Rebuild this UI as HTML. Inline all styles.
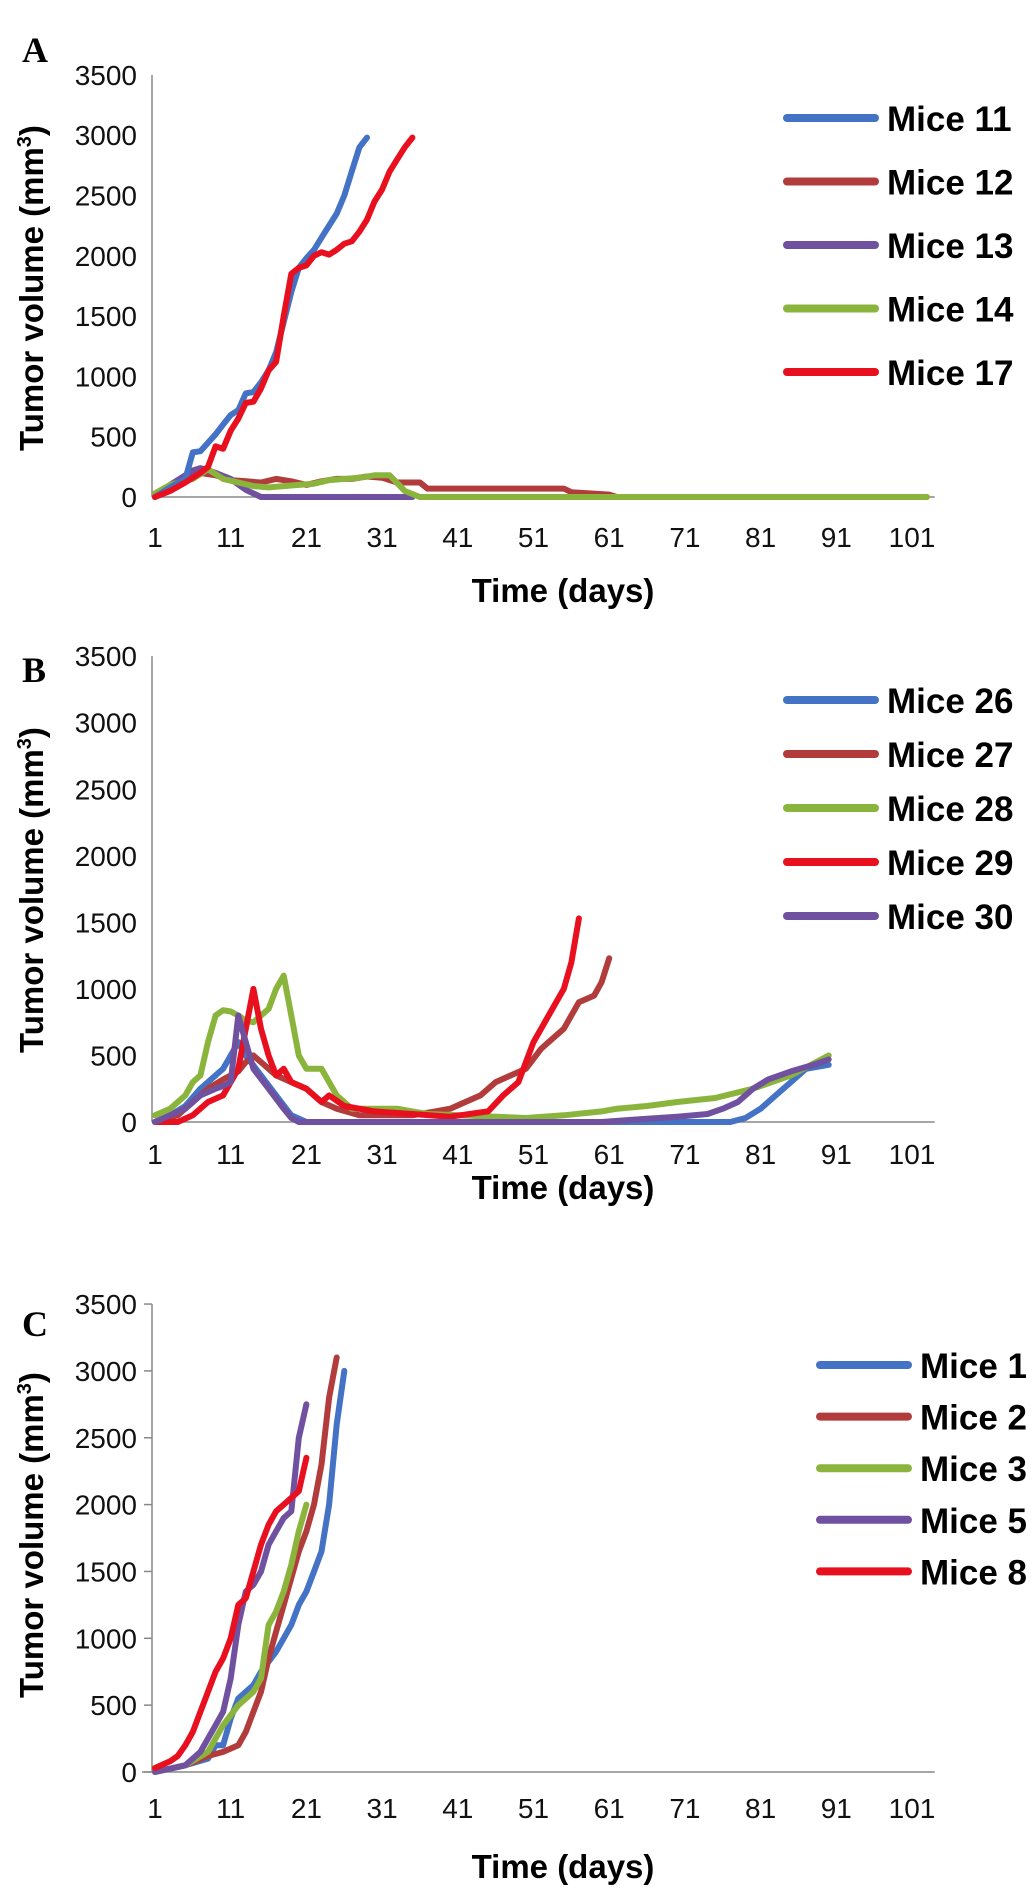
<!DOCTYPE html>
<html><head><meta charset="utf-8"><style>
html,body{margin:0;padding:0;background:#fff;}
svg{display:block;}
.tick{font-family:"Liberation Sans",sans-serif;font-size:28px;fill:#111;}
.ttl{font-family:"Liberation Sans",sans-serif;font-size:33px;font-weight:bold;fill:#000;}
.leg{font-family:"Liberation Sans",sans-serif;font-size:35px;font-weight:bold;fill:#000;}
.pl{font-family:"Liberation Serif",serif;font-size:36px;font-weight:bold;fill:#000;}
</style></head><body>
<svg id="fig" width="1033" height="1889" viewBox="0 0 1033 1889" xmlns="http://www.w3.org/2000/svg"></svg>
<script>
const yTicks=[0,500,1000,1500,2000,2500,3000,3500];
const xTicks=[1,11,21,31,41,51,61,71,81,91,101];
const BLUE="#4472c4",BROWN="#b23c3c",PURPLE="#7051a0",GREEN="#8bb43c",RED="#e8101e";

// Panel A
const a11D=[1,3,5,6,7,8,9,10,11,12,13,14,15,16,17,18,19,20,21,22,23,24,25,26,27,28,29];
const a11V=[0,80,150,370,380,450,520,600,680,720,860,870,950,1050,1200,1450,1700,1900,1980,2050,2150,2250,2350,2500,2700,2900,2980];
const a12D=[1,3,5,7,9,11,13,15,17,19,21,23,25,27,29,31,33,36,37,40,55,56,61,62];
const a12V=[0,80,150,200,180,140,130,120,150,130,100,130,150,150,170,160,120,120,70,70,70,40,20,0];
const a13D=[1,3,5,6,7,9,11,13,15,35];
const a13V=[0,100,180,220,240,200,150,60,0,0];
const a14D=[1,3,6,8,10,12,14,16,20,22,24,28,30,32,34,36,103];
const a14V=[30,100,150,230,150,120,90,80,100,110,140,160,180,180,50,0,0];
const a17D=[1,3,5,7,8,9,10,11,12,13,14,15,16,17,18,19,20,21,22,23,24,25,26,27,28,29,30,31,32,33,34,35];
const a17V=[0,50,120,200,250,420,400,550,650,780,790,900,1050,1120,1500,1850,1900,1920,2000,2030,2010,2050,2100,2120,2200,2300,2450,2550,2700,2800,2900,2980];

// Panel B
const b26D=[1,3,5,7,9,10,11,12,13,15,17,19,21,77,79,81,83,85,87,90];
const b26V=[0,50,120,250,350,400,500,600,500,350,200,50,0,0,30,100,200,300,400,430];
const b27D=[1,4,6,8,10,12,13,14,15,17,19,21,23,25,28,35,38,40,42,44,46,48,50,52,53,55,57,59,60,61];
const b27V=[0,50,150,250,320,380,450,500,450,350,300,250,150,100,50,50,80,100,150,200,300,350,400,550,600,700,900,950,1050,1230];
const b28D=[1,3,5,6,7,8,9,10,11,12,13,14,16,17,18,19,20,21,23,25,27,33,35,37,50,55,60,62,66,70,75,80,85,90];
const b28V=[50,100,200,300,350,600,800,840,830,800,760,750,850,1000,1100,800,500,400,400,200,100,100,80,60,30,50,80,100,120,150,180,250,350,500];
const b29D=[1,4,6,8,10,11,12,13,14,15,16,17,18,19,21,23,24,26,30,35,40,45,47,49,51,53,55,56,57];
const b29V=[0,0,50,150,200,300,400,700,1000,700,500,350,400,300,250,150,200,120,80,60,40,80,200,300,600,800,1000,1200,1530];
const b30D=[1,3,5,7,9,10,11,12,13,14,16,18,19,20,60,65,70,74,76,78,80,82,85,88,90];
const b30V=[0,50,100,200,250,270,300,800,600,400,250,100,30,0,0,20,40,60,100,150,250,320,380,430,470];

// Panel C
const c1D=[1,5,8,9,10,11,12,13,14,15,17,18,19,20,21,22,23,24,25,26];
const c1V=[0,50,100,200,200,400,550,600,650,750,900,1000,1100,1250,1350,1500,1650,2000,2600,3000];
const c2D=[1,5,8,10,12,13,14,15,16,17,18,19,20,21,22,23,24,25];
const c2V=[0,50,120,150,200,300,450,600,850,1050,1250,1450,1650,1800,2000,2300,2800,3100];
const c3D=[1,5,8,10,12,14,15,16,17,18,19,20,21];
const c3V=[0,50,150,350,500,600,700,1100,1200,1350,1550,1800,2000];
const c5D=[1,5,7,9,10,11,12,13,14,15,16,17,18,19,20,21];
const c5V=[0,50,150,350,450,700,1100,1350,1400,1500,1700,1800,1900,1950,2500,2750];
const c8D=[1,3,4,5,6,7,8,9,10,11,12,13,14,15,16,17,18,19,20,21];
const c8V=[30,80,120,200,300,450,600,750,850,1000,1250,1300,1500,1700,1850,1950,2000,2050,2100,2350];

const NS="http://www.w3.org/2000/svg";
const svg=document.getElementById('fig');
function mk(tag,attrs,parent,text){const e=document.createElementNS(NS,tag);for(const k in attrs)e.setAttribute(k,attrs[k]);if(text!==undefined)e.textContent=text;(parent||svg).appendChild(e);return e;}

function panel(p){
  const g=mk('g',{});
  
  
  const X=d=>155+(d-1)*7.57;
  const Y=v=>p.y0-v*p.k;
  const lt=mk('text',{x:22,y:p.letterY,class:'pl'},g,p.key.toUpperCase());
  
  
  const ya=mk('line',{x1:152,y1:Y(3500),x2:152,y2:p.y0,stroke:'#888','stroke-width':1.5},g);
  
  
  const xa=mk('line',{x1:p.key==='c'?142:152,y1:p.y0,x2:X(104),y2:p.y0,stroke:'#888','stroke-width':1.5},g);
  
  
  yTicks.forEach(v=>{
    const t=mk('text',{x:137,y:Y(v)+10,'text-anchor':'end',class:'tick'},g,String(v));
    
    
    if(p.key==='c'){
      const tk=mk('line',{x1:144,y1:Y(v),x2:152,y2:Y(v),stroke:'#888','stroke-width':1.5},g);
      
      
    }
  });
  xTicks.forEach(d=>{
    const t=mk('text',{x:X(d),y:p.y0+p.tickDy,'text-anchor':'middle',class:'tick'},g,String(d));
    
    
  });
  const xt=mk('text',{x:563,y:p.y0+p.titleDy,'text-anchor':'middle',class:'ttl'},g,'Time (days)');
  
  
  const yt=mk('text',{x:0,y:0,'text-anchor':'middle',class:'ttl',transform:'translate(43,'+p.titleY+') rotate(-90)'},g);
  
  
  yt.appendChild(document.createTextNode('Tumor volume (mm'));
  mk('tspan',{dy:-12,'font-size':20},yt,'3');
  mk('tspan',{dy:12},yt,')');
  p.draw.forEach(s=>{
    const pts=s.d.map((d,j)=>X(d).toFixed(1)+','+Y(s.v[j]).toFixed(1)).join(' ');
    const pl=mk('polyline',{points:pts,fill:'none',stroke:s.c,'stroke-width':6,'stroke-linejoin':'round','stroke-linecap':'round'},g);
    
    
  });
  p.legend.forEach((s,i)=>{
    const ly=p.legY+i*p.legGap;
    const l=mk('line',{x1:p.legX,y1:ly,x2:p.legX+88,y2:ly,stroke:s.c,'stroke-width':8,'stroke-linecap':'round'},g);
    
    
    const t=mk('text',{x:p.legX+100,y:ly+13,class:'leg'},g,s.n);
    
    
  });
}

const A11={n:'Mice 11',d:a11D,v:a11V,c:BLUE},A12={n:'Mice 12',d:a12D,v:a12V,c:BROWN},A13={n:'Mice 13',d:a13D,v:a13V,c:PURPLE},A14={n:'Mice 14',d:a14D,v:a14V,c:GREEN},A17={n:'Mice 17',d:a17D,v:a17V,c:RED};
panel({key:'a',y0:497,k:60.3/500,letterY:62,titleY:288,tickDy:50,titleDy:105,legX:787,legY:118,legGap:63.5,
  draw:[A12,A13,A14,A11,A17],legend:[A11,A12,A13,A14,A17]});

const B26={n:'Mice 26',d:b26D,v:b26V,c:BLUE},B27={n:'Mice 27',d:b27D,v:b27V,c:BROWN},B28={n:'Mice 28',d:b28D,v:b28V,c:GREEN},B29={n:'Mice 29',d:b29D,v:b29V,c:RED},B30={n:'Mice 30',d:b30D,v:b30V,c:PURPLE};
panel({key:'b',y0:1122,k:0.1331,letterY:682,titleY:890,tickDy:42,titleDy:77,legX:787,legY:700,legGap:54,
  draw:[B26,B27,B28,B29,B30],legend:[B26,B27,B28,B29,B30]});

const C1={n:'Mice 1',d:c1D,v:c1V,c:BLUE},C2={n:'Mice 2',d:c2D,v:c2V,c:BROWN},C3={n:'Mice 3',d:c3D,v:c3V,c:GREEN},C5={n:'Mice 5',d:c5D,v:c5V,c:PURPLE},C8={n:'Mice 8',d:c8D,v:c8V,c:RED};
panel({key:'c',y0:1772,k:0.1337,letterY:1336,titleY:1535,tickDy:46,titleDy:106,legX:820,legY:1365,legGap:51.6,
  draw:[C1,C2,C3,C5,C8],legend:[C1,C2,C3,C5,C8]});
</script>
</body></html>
